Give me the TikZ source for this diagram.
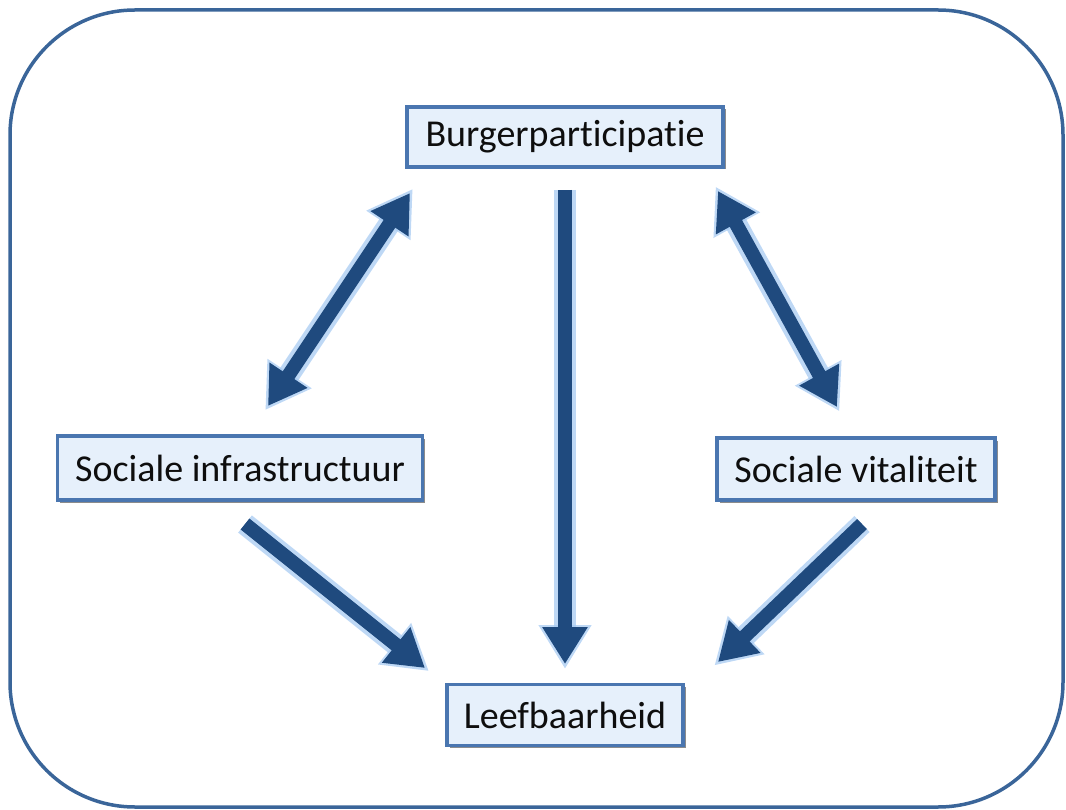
\documentclass[tikz,border=0pt]{standalone}
\usepackage{fontspec}
\setmainfont{Carlito}[Ligatures={NoCommon}]
\usetikzlibrary{arrows.meta,shadows,calc}
\definecolor{framecol}{HTML}{3A6599}
\definecolor{boxfill}{HTML}{E6F0FB}
\definecolor{boxline}{HTML}{4A76B0}
\definecolor{arrowcol}{HTML}{1F4A7E}
\definecolor{glowcol}{HTML}{A8CBF2}
\definecolor{textcol}{HTML}{0E0E0E}
\tikzset{
  conceptbox/.style={draw=boxline, line width=3.5pt, fill=boxfill, inner sep=0pt,
    font=\fontsize{38}{40}\selectfont, text=textcol, align=center,
    drop shadow={shadow xshift=2.5pt, shadow yshift=-2.5pt, fill=black!75, opacity=0.6}},
  glow/.style={draw=glowcol, line width=22pt, opacity=0.75,
    -{Triangle[length=44pt,width=50pt]}, shorten >=-5pt},
  glowboth/.style={draw=glowcol, line width=22pt, opacity=0.75,
    {Triangle[length=44pt,width=50pt]}-{Triangle[length=44pt,width=50pt]}, shorten >=-5pt, shorten <=-5pt},
  bluearrow/.style={draw=arrowcol, line width=14pt, -{Triangle[length=37pt,width=43pt]}},
  bluebothway/.style={draw=arrowcol, line width=14pt,
    {Triangle[length=37pt,width=43pt]}-{Triangle[length=37pt,width=43pt]}},
}
\begin{document}
\begin{tikzpicture}[x=1pt,y=-1pt]
\useasboundingbox (0,0) rectangle (1066,810);
\draw[framecol, line width=3.5pt, rounded corners=125pt] (10,10) rectangle (1063,807);

\node[conceptbox, minimum width=316pt, minimum height=60pt] (bp) at (565,137) {Burgerparticipatie};
\node[conceptbox, minimum width=365pt, minimum height=64pt] (si) at (240,468) {Sociale infrastructuur};
\node[conceptbox, minimum width=278pt, minimum height=62pt] (sv) at (856,469) {Sociale vitaliteit};
\node[conceptbox, minimum width=236pt, minimum height=61pt] (lf) at (565,715) {Leefbaarheid};

% arrow end points
\coordinate (bpL) at (410,193);
\coordinate (siT) at (268,406);
\coordinate (bpR) at (718,191);
\coordinate (svT) at (837,407);
\coordinate (siB) at (245,524);
\coordinate (lfL) at (425,668);
\coordinate (svB) at (862,524);
\coordinate (lfR) at (718,662);
\coordinate (bpB) at (565,190);
\coordinate (lfT) at (565,664);

% glows
\draw[glowboth] (bpL) -- (siT);
\draw[glowboth] (bpR) -- (svT);
\draw[glow] (bpB) -- (lfT);
\draw[glow] (siB) -- (lfL);
\draw[glow] (svB) -- (lfR);

% arrows
\draw[bluebothway] (bpL) -- (siT);
\draw[bluebothway] (bpR) -- (svT);
\draw[bluearrow] (bpB) -- (lfT);
\draw[bluearrow] (siB) -- (lfL);
\draw[bluearrow] (svB) -- (lfR);
\end{tikzpicture}
\end{document}
